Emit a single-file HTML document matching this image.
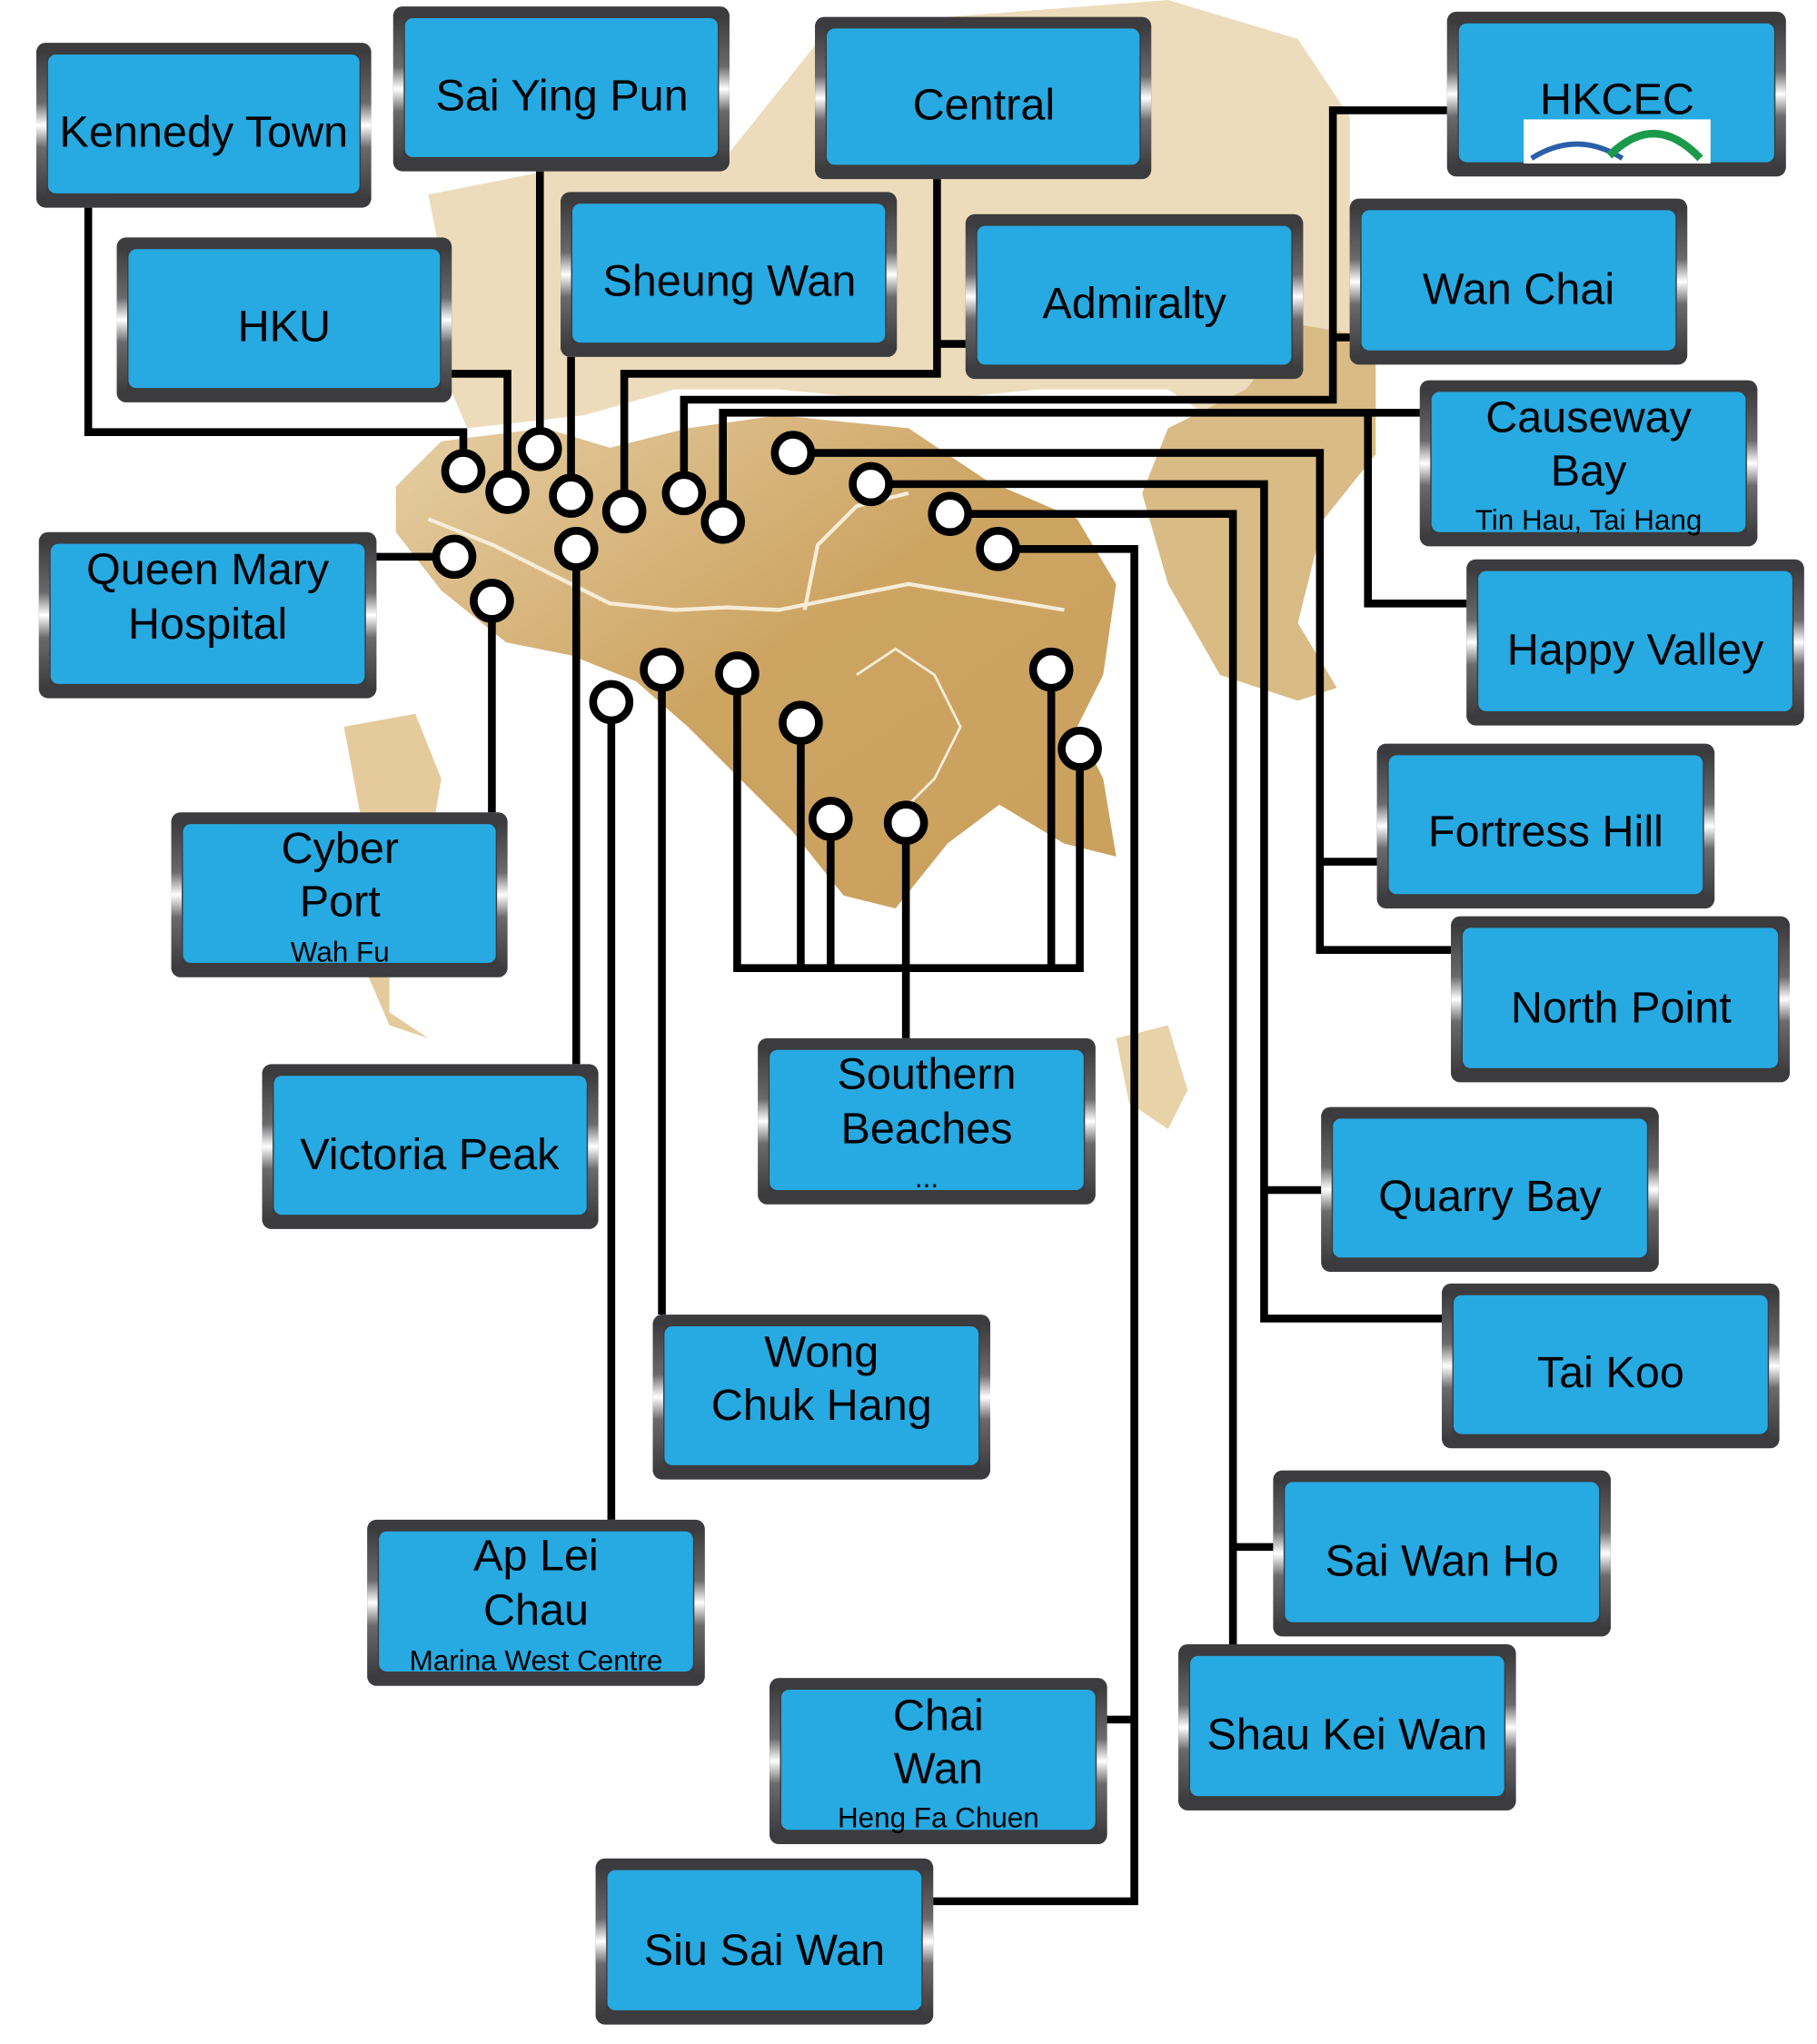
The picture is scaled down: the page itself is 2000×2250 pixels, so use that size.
<!DOCTYPE html>
<html><head><meta charset="utf-8"><style>
html,body{margin:0;padding:0;background:#fff;}
svg{display:block;}
text{font-family:"Liberation Sans",sans-serif;fill:#000;text-anchor:middle;}
</style></head><body>
<svg width="2000" height="2250" viewBox="0 0 1400 1575" preserveAspectRatio="none" xmlns="http://www.w3.org/2000/svg">
<defs>
<linearGradient id="side" x1="0" y1="0" x2="0" y2="1">
<stop offset="0" stop-color="#3a3a3c"/><stop offset="0.35" stop-color="#6a6a6c"/><stop offset="0.5" stop-color="#ffffff"/><stop offset="0.65" stop-color="#6a6a6c"/><stop offset="1" stop-color="#3a3a3c"/>
</linearGradient>
<linearGradient id="land" x1="0" y1="0" x2="1" y2="1">
<stop offset="0" stop-color="#e6cfa5"/><stop offset="0.5" stop-color="#cda462"/><stop offset="1" stop-color="#c9a05c"/>
</linearGradient>
<radialGradient id="fade" cx="0.5" cy="0.5" r="0.6">
<stop offset="0" stop-color="#d4b077"/><stop offset="1" stop-color="#f1e3c8"/>
</radialGradient>
</defs>
<!-- map -->
<g>
<polygon fill="#eddcbc" points="330,150 430,130 560,120 640,20 900,0 1000,30 1040,90 1040,330 960,340 900,300 800,300 700,310 600,300 520,300 450,320 360,330 330,260 340,200"/>
<polygon fill="#d9bb85" points="1000,250 1060,260 1060,350 1020,400 1000,480 1030,530 1000,540 940,520 900,450 880,380 900,330 960,300"/>
<polygon fill="url(#land)" points="305,375 340,340 420,330 470,345 530,330 600,320 700,330 760,370 830,400 860,450 850,520 830,560 850,600 860,660 820,650 770,620 730,650 690,700 650,690 610,640 570,600 530,560 490,525 440,505 390,495 340,455 305,410"/>
<polygon fill="#e5cb9c" points="265,560 320,550 340,600 330,660 300,720 300,780 330,800 300,790 270,720 280,640"/>
<polygon fill="#e8d2a8" points="860,800 900,790 915,840 900,870 870,850"/>
<polyline fill="none" stroke="#f6ecd8" stroke-width="3" points="330,400 380,420 420,440 470,465 520,470 560,468 600,470 650,460 700,450 760,460 820,470"/>
<polyline fill="none" stroke="#f6ecd8" stroke-width="3" points="620,470 630,420 660,390 700,380"/>
<polyline fill="none" stroke="#f6ecd8" stroke-width="2" points="660,520 690,500 720,520 740,560 720,600 700,620"/>
</g>
<!-- connectors -->
<g fill="none" stroke="#000" stroke-width="6" stroke-linejoin="miter">
<polyline points="68,160 68,333 357,333 357,350"/>
<polyline points="348,288 391,288 391,365"/>
<polyline points="416,132 416,332"/>
<polyline points="440,275 440,368"/>
<polyline points="722,138 722,288 481,288 481,380"/>
<polyline points="744,265 722,265"/>
<polyline points="527,366 527,308 1027,308 1027,85 1115,85"/>
<polyline points="1040,260 1027,260"/>
<polyline points="557,388 557,318 1094,318"/>
<polyline points="1054,318 1054,465 1130,465"/>
<polyline points="625,349 1017,349 1017,732 1118,732"/>
<polyline points="1017,664 1061,664"/>
<polyline points="685,373 974,373 974,1016 1111,1016"/>
<polyline points="974,917 1018,917"/>
<polyline points="746,396 950,396 950,1267"/>
<polyline points="950,1192 981,1192"/>
<polyline points="783,423 874,423 874,1465 719,1465"/>
<polyline points="853,1325 874,1325"/>
<polyline points="290,429 336,429"/>
<polyline points="379,477 379,626"/>
<polyline points="444,437 444,820"/>
<polyline points="471,555 471,1171"/>
<polyline points="510,530 510,1013"/>
<polyline points="568,533 568,746 832,746 832,591"/>
<polyline points="617,571 617,746"/>
<polyline points="640,645 640,746"/>
<polyline points="698,648 698,800"/>
<polyline points="810,530 810,746"/>
</g>
<g fill="#fff" stroke="#000" stroke-width="6">
<circle cx="357" cy="363" r="14"/><circle cx="391" cy="379" r="14"/><circle cx="416" cy="346" r="14"/><circle cx="440" cy="382" r="14"/><circle cx="481" cy="394" r="14"/><circle cx="527" cy="380" r="14"/><circle cx="557" cy="402" r="14"/><circle cx="611" cy="349" r="14"/><circle cx="671" cy="373" r="14"/><circle cx="732" cy="396" r="14"/><circle cx="769" cy="423" r="14"/><circle cx="350" cy="429" r="14"/><circle cx="379" cy="463" r="14"/><circle cx="444" cy="423" r="14"/><circle cx="471" cy="541" r="14"/><circle cx="510" cy="516" r="14"/><circle cx="568" cy="519" r="14"/><circle cx="617" cy="557" r="14"/><circle cx="640" cy="631" r="14"/><circle cx="698" cy="634" r="14"/><circle cx="810" cy="516" r="14"/><circle cx="832" cy="577" r="14"/>
</g>
<!-- boxes -->
<g id="boxes">
<g transform="translate(28,33)"><rect width="258" height="127" rx="7" fill="#3c3c3e"/><rect x="0" y="6" width="8" height="115" fill="url(#side)"/><rect x="250" y="6" width="8" height="115" fill="url(#side)"/><rect x="9" y="9" width="240" height="107" rx="6" fill="#27a9e1"/></g>
<g transform="translate(303,5)"><rect width="259" height="127" rx="7" fill="#3c3c3e"/><rect x="0" y="6" width="8" height="115" fill="url(#side)"/><rect x="251" y="6" width="8" height="115" fill="url(#side)"/><rect x="9" y="9" width="241" height="107" rx="6" fill="#27a9e1"/></g>
<g transform="translate(628,13)"><rect width="259" height="125" rx="7" fill="#3c3c3e"/><rect x="0" y="6" width="8" height="113" fill="url(#side)"/><rect x="251" y="6" width="8" height="113" fill="url(#side)"/><rect x="9" y="9" width="241" height="105" rx="6" fill="#27a9e1"/></g>
<g transform="translate(1115,9)"><rect width="261" height="127" rx="7" fill="#3c3c3e"/><rect x="0" y="6" width="8" height="115" fill="url(#side)"/><rect x="253" y="6" width="8" height="115" fill="url(#side)"/><rect x="9" y="9" width="243" height="107" rx="6" fill="#27a9e1"/></g>
<g transform="translate(90,183)"><rect width="258" height="127" rx="7" fill="#3c3c3e"/><rect x="0" y="6" width="8" height="115" fill="url(#side)"/><rect x="250" y="6" width="8" height="115" fill="url(#side)"/><rect x="9" y="9" width="240" height="107" rx="6" fill="#27a9e1"/></g>
<g transform="translate(432,148)"><rect width="259" height="127" rx="7" fill="#3c3c3e"/><rect x="0" y="6" width="8" height="115" fill="url(#side)"/><rect x="251" y="6" width="8" height="115" fill="url(#side)"/><rect x="9" y="9" width="241" height="107" rx="6" fill="#27a9e1"/></g>
<g transform="translate(744,165)"><rect width="260" height="127" rx="7" fill="#3c3c3e"/><rect x="0" y="6" width="8" height="115" fill="url(#side)"/><rect x="252" y="6" width="8" height="115" fill="url(#side)"/><rect x="9" y="9" width="242" height="107" rx="6" fill="#27a9e1"/></g>
<g transform="translate(1040,153)"><rect width="260" height="128" rx="7" fill="#3c3c3e"/><rect x="0" y="6" width="8" height="116" fill="url(#side)"/><rect x="252" y="6" width="8" height="116" fill="url(#side)"/><rect x="9" y="9" width="242" height="108" rx="6" fill="#27a9e1"/></g>
<g transform="translate(1094,293)"><rect width="260" height="128" rx="7" fill="#3c3c3e"/><rect x="0" y="6" width="8" height="116" fill="url(#side)"/><rect x="252" y="6" width="8" height="116" fill="url(#side)"/><rect x="9" y="9" width="242" height="108" rx="6" fill="#27a9e1"/></g>
<g transform="translate(30,410)"><rect width="260" height="128" rx="7" fill="#3c3c3e"/><rect x="0" y="6" width="8" height="116" fill="url(#side)"/><rect x="252" y="6" width="8" height="116" fill="url(#side)"/><rect x="9" y="9" width="242" height="108" rx="6" fill="#27a9e1"/></g>
<g transform="translate(1130,431)"><rect width="260" height="128" rx="7" fill="#3c3c3e"/><rect x="0" y="6" width="8" height="116" fill="url(#side)"/><rect x="252" y="6" width="8" height="116" fill="url(#side)"/><rect x="9" y="9" width="242" height="108" rx="6" fill="#27a9e1"/></g>
<g transform="translate(132,626)"><rect width="259" height="127" rx="7" fill="#3c3c3e"/><rect x="0" y="6" width="8" height="115" fill="url(#side)"/><rect x="251" y="6" width="8" height="115" fill="url(#side)"/><rect x="9" y="9" width="241" height="107" rx="6" fill="#27a9e1"/></g>
<g transform="translate(1061,573)"><rect width="260" height="127" rx="7" fill="#3c3c3e"/><rect x="0" y="6" width="8" height="115" fill="url(#side)"/><rect x="252" y="6" width="8" height="115" fill="url(#side)"/><rect x="9" y="9" width="242" height="107" rx="6" fill="#27a9e1"/></g>
<g transform="translate(1118,706)"><rect width="261" height="128" rx="7" fill="#3c3c3e"/><rect x="0" y="6" width="8" height="116" fill="url(#side)"/><rect x="253" y="6" width="8" height="116" fill="url(#side)"/><rect x="9" y="9" width="243" height="108" rx="6" fill="#27a9e1"/></g>
<g transform="translate(202,820)"><rect width="259" height="127" rx="7" fill="#3c3c3e"/><rect x="0" y="6" width="8" height="115" fill="url(#side)"/><rect x="251" y="6" width="8" height="115" fill="url(#side)"/><rect x="9" y="9" width="241" height="107" rx="6" fill="#27a9e1"/></g>
<g transform="translate(584,800)"><rect width="260" height="128" rx="7" fill="#3c3c3e"/><rect x="0" y="6" width="8" height="116" fill="url(#side)"/><rect x="252" y="6" width="8" height="116" fill="url(#side)"/><rect x="9" y="9" width="242" height="108" rx="6" fill="#27a9e1"/></g>
<g transform="translate(1018,853)"><rect width="260" height="127" rx="7" fill="#3c3c3e"/><rect x="0" y="6" width="8" height="115" fill="url(#side)"/><rect x="252" y="6" width="8" height="115" fill="url(#side)"/><rect x="9" y="9" width="242" height="107" rx="6" fill="#27a9e1"/></g>
<g transform="translate(1111,989)"><rect width="260" height="127" rx="7" fill="#3c3c3e"/><rect x="0" y="6" width="8" height="115" fill="url(#side)"/><rect x="252" y="6" width="8" height="115" fill="url(#side)"/><rect x="9" y="9" width="242" height="107" rx="6" fill="#27a9e1"/></g>
<g transform="translate(503,1013)"><rect width="260" height="127" rx="7" fill="#3c3c3e"/><rect x="0" y="6" width="8" height="115" fill="url(#side)"/><rect x="252" y="6" width="8" height="115" fill="url(#side)"/><rect x="9" y="9" width="242" height="107" rx="6" fill="#27a9e1"/></g>
<g transform="translate(981,1133)"><rect width="260" height="128" rx="7" fill="#3c3c3e"/><rect x="0" y="6" width="8" height="116" fill="url(#side)"/><rect x="252" y="6" width="8" height="116" fill="url(#side)"/><rect x="9" y="9" width="242" height="108" rx="6" fill="#27a9e1"/></g>
<g transform="translate(283,1171)"><rect width="260" height="128" rx="7" fill="#3c3c3e"/><rect x="0" y="6" width="8" height="116" fill="url(#side)"/><rect x="252" y="6" width="8" height="116" fill="url(#side)"/><rect x="9" y="9" width="242" height="108" rx="6" fill="#27a9e1"/></g>
<g transform="translate(908,1267)"><rect width="260" height="128" rx="7" fill="#3c3c3e"/><rect x="0" y="6" width="8" height="116" fill="url(#side)"/><rect x="252" y="6" width="8" height="116" fill="url(#side)"/><rect x="9" y="9" width="242" height="108" rx="6" fill="#27a9e1"/></g>
<g transform="translate(593,1293)"><rect width="260" height="128" rx="7" fill="#3c3c3e"/><rect x="0" y="6" width="8" height="116" fill="url(#side)"/><rect x="252" y="6" width="8" height="116" fill="url(#side)"/><rect x="9" y="9" width="242" height="108" rx="6" fill="#27a9e1"/></g>
<g transform="translate(459,1432)"><rect width="260" height="128" rx="7" fill="#3c3c3e"/><rect x="0" y="6" width="8" height="116" fill="url(#side)"/><rect x="252" y="6" width="8" height="116" fill="url(#side)"/><rect x="9" y="9" width="242" height="108" rx="6" fill="#27a9e1"/></g>
</g>
<!-- HKCEC logo -->
<rect x="1174" y="92" width="144" height="34" fill="#fff"/>
<path d="M1180,122 Q1215,100 1250,122" fill="none" stroke="#2a5fa8" stroke-width="4"/>
<path d="M1240,120 Q1275,85 1310,122" fill="none" stroke="#1a9a4a" stroke-width="6"/>
<!-- labels -->
<g font-size="34">
<text x="157" y="113">Kennedy Town</text>
<text x="433" y="85">Sai Ying Pun</text>
<text x="758" y="92">Central</text>
<text x="1246" y="88">HKCEC</text>
<text x="219" y="263">HKU</text>
<text x="562" y="228">Sheung Wan</text>
<text x="874" y="245">Admiralty</text>
<text x="1170" y="234">Wan Chai</text>
<text x="1224" y="333">Causeway</text>
<text x="1224" y="374">Bay</text>
<text x="160" y="450">Queen Mary</text>
<text x="160" y="492">Hospital</text>
<text x="1260" y="512">Happy Valley</text>
<text x="262" y="665">Cyber</text>
<text x="262" y="706">Port</text>
<text x="1191" y="652">Fortress Hill</text>
<text x="1249" y="788">North Point</text>
<text x="331" y="901">Victoria Peak</text>
<text x="714" y="839">Southern</text>
<text x="714" y="881">Beaches</text>
<text x="1148" y="933">Quarry Bay</text>
<text x="1241" y="1069">Tai Koo</text>
<text x="633" y="1053">Wong</text>
<text x="633" y="1094">Chuk Hang</text>
<text x="1111" y="1214">Sai Wan Ho</text>
<text x="413" y="1210">Ap Lei</text>
<text x="413" y="1252">Chau</text>
<text x="1038" y="1348">Shau Kei Wan</text>
<text x="723" y="1333">Chai</text>
<text x="723" y="1374">Wan</text>
<text x="589" y="1514">Siu Sai Wan</text>
</g>
<g font-size="22">
<text x="1224" y="408">Tin Hau, Tai Hang</text>
<text x="262" y="741">Wah Fu</text>
<text x="714" y="915">...</text>
<text x="413" y="1287">Marina West Centre</text>
<text x="723" y="1408">Heng Fa Chuen</text>
</g>
</svg>
</body></html>
